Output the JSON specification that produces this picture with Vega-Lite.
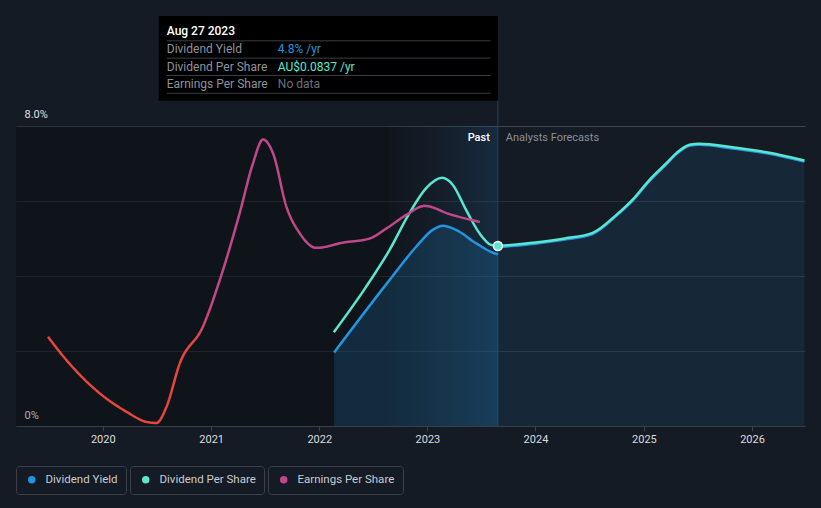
{
"$schema": "https://vega.github.io/schema/vega-lite/v6.json",
"width": 789,
"height": 410,
"autosize": {"type": "none"},
"padding": {"left": 16, "top": 16, "right": 16, "bottom": 82},
"background": "#151b24",
"config": {
  "view": {"stroke": null},
  "font": "Roboto",
  "legend": {"orient": "none", "title": null, "labelColor": "#c9ccd1", "labelFontSize": 11.5, "labelFont": "Roboto", "symbolType": "circle", "symbolSize": 56, "symbolStrokeWidth": 0, "strokeColor": "#3b4049", "cornerRadius": 3, "padding": 8, "labelOffset": 8, "symbolOffset": 2}
},
"datasets": {
  "regions": [
    {"period": "history", "start": "2019-03-14", "end": "2022-08-26"},
    {"period": "last year", "start": "2022-08-26", "end": "2023-08-27"}
  ],
  "yield": [
    {"date": "2022-02-20", "dy": 1.96, "part": "past"},
    {"date": "2022-08-26", "dy": 3.89, "part": "past"},
    {"date": "2022-11-24", "dy": 4.78, "part": "past"},
    {"date": "2023-01-19", "dy": 5.23, "part": "past"},
    {"date": "2023-02-22", "dy": 5.34, "part": "past"},
    {"date": "2023-04-08", "dy": 5.23, "part": "past"},
    {"date": "2023-06-15", "dy": 4.87, "part": "past"},
    {"date": "2023-08-10", "dy": 4.62, "part": "past"},
    {"date": "2023-08-27", "dy": 4.58, "part": "past"},
    {"date": "2023-08-27", "dy": 4.77, "part": "forecast"},
    {"date": "2024-01-01", "dy": 4.86, "part": "forecast"},
    {"date": "2024-04-09", "dy": 4.97, "part": "forecast"},
    {"date": "2024-07-12", "dy": 5.12, "part": "forecast"},
    {"date": "2024-10-01", "dy": 5.61, "part": "forecast"},
    {"date": "2024-11-24", "dy": 6.01, "part": "forecast"},
    {"date": "2025-01-21", "dy": 6.54, "part": "forecast"},
    {"date": "2025-03-18", "dy": 6.98, "part": "forecast"},
    {"date": "2025-04-21", "dy": 7.25, "part": "forecast"},
    {"date": "2025-06-04", "dy": 7.47, "part": "forecast"},
    {"date": "2025-07-07", "dy": 7.5, "part": "forecast"},
    {"date": "2025-10-27", "dy": 7.4, "part": "forecast"},
    {"date": "2026-02-19", "dy": 7.27, "part": "forecast"},
    {"date": "2026-06-27", "dy": 7.05, "part": "forecast"}
  ],
  "dps": [
    {"date": "2022-02-19", "dps": 0.0436, "part": "past"},
    {"date": "2022-06-08", "dps": 0.0647, "part": "past"},
    {"date": "2022-08-26", "dps": 0.0818, "part": "past"},
    {"date": "2022-11-01", "dps": 0.0989, "part": "past"},
    {"date": "2022-12-28", "dps": 0.1106, "part": "past"},
    {"date": "2023-02-20", "dps": 0.1154, "part": "past"},
    {"date": "2023-03-28", "dps": 0.1121, "part": "past"},
    {"date": "2023-05-12", "dps": 0.1004, "part": "past"},
    {"date": "2023-06-26", "dps": 0.0896, "part": "past"},
    {"date": "2023-08-04", "dps": 0.0842, "part": "past"},
    {"date": "2023-08-27", "dps": 0.0837, "part": "past"},
    {"date": "2023-08-27", "dps": 0.0837, "part": "forecast"},
    {"date": "2024-01-01", "dps": 0.0853, "part": "forecast"},
    {"date": "2024-04-09", "dps": 0.0872, "part": "forecast"},
    {"date": "2024-07-12", "dps": 0.0898, "part": "forecast"},
    {"date": "2024-10-01", "dps": 0.0983, "part": "forecast"},
    {"date": "2024-11-24", "dps": 0.1053, "part": "forecast"},
    {"date": "2025-01-21", "dps": 0.1146, "part": "forecast"},
    {"date": "2025-03-18", "dps": 0.1222, "part": "forecast"},
    {"date": "2025-04-21", "dps": 0.1269, "part": "forecast"},
    {"date": "2025-06-04", "dps": 0.1308, "part": "forecast"},
    {"date": "2025-07-07", "dps": 0.1313, "part": "forecast"},
    {"date": "2025-10-27", "dps": 0.1296, "part": "forecast"},
    {"date": "2026-02-19", "dps": 0.1273, "part": "forecast"},
    {"date": "2026-06-27", "dps": 0.1235, "part": "forecast"}
  ],
  "eps": [
    {"date": "2019-06-30", "eps": 2.38},
    {"date": "2019-08-31", "eps": 1.76},
    {"date": "2019-12-22", "eps": 0.87},
    {"date": "2020-03-21", "eps": 0.38},
    {"date": "2020-05-27", "eps": 0.11},
    {"date": "2020-06-30", "eps": 0.08},
    {"date": "2020-08-03", "eps": 0.51},
    {"date": "2020-09-17", "eps": 1.67},
    {"date": "2020-12-04", "eps": 2.65},
    {"date": "2021-01-30", "eps": 3.89},
    {"date": "2021-04-07", "eps": 5.67},
    {"date": "2021-05-22", "eps": 7.0},
    {"date": "2021-06-25", "eps": 7.64},
    {"date": "2021-07-29", "eps": 7.27},
    {"date": "2021-09-12", "eps": 5.85},
    {"date": "2021-10-27", "eps": 5.14},
    {"date": "2021-12-22", "eps": 4.75},
    {"date": "2022-03-22", "eps": 4.89},
    {"date": "2022-06-20", "eps": 5.0},
    {"date": "2022-08-16", "eps": 5.27},
    {"date": "2022-10-22", "eps": 5.63},
    {"date": "2022-12-23", "eps": 5.87},
    {"date": "2023-03-17", "eps": 5.65},
    {"date": "2023-06-27", "eps": 5.44}
  ],
  "tip": [
    {"label": "Dividend Yield", "value": "4.8% /yr"},
    {"label": "Dividend Per Share", "value": "AU$0.0837 /yr"},
    {"label": "Earnings Per Share", "value": "No data"}
  ]
},
"layer": [
  {
    "layer": [
      {
        "data": {"name": "regions"},
        "transform": [{"filter": "datum.period == 'history'"}],
        "mark": {"type": "rect", "color": "#000000", "opacity": 0.25},
        "encoding": {
          "x": {"field": "start", "type": "temporal",
                "scale": {"domain": [{"year": 2019, "month": 3, "date": 14}, {"year": 2026, "month": 6, "date": 29}]},
                "axis": {"title": null, "format": "%Y", "tickCount": "year", "grid": false, "domainColor": "#3a404a", "tickColor": "#3a404a", "tickSize": 5, "labelPadding": 2, "labelColor": "#dcdcdc", "labelFontSize": 11, "labelFont": "Roboto"}},
          "x2": {"field": "end"},
          "y": {"datum": 0, "type": "quantitative",
                "scale": {"domain": [0, 10.9333], "nice": false, "zero": false},
                "axis": {"title": null, "values": [0, 2, 4, 6, 8], "labelExpr": "datum.value == 8 ? '8.0%' : (datum.value == 0 ? '0%' : '')", "grid": true, "gridColor": {"condition": {"test": "datum.value == 8", "value": "#40454e"}, "value": "#2a3039"}, "gridWidth": 1, "domain": false, "ticks": false, "tickSize": 0, "labelAlign": "left", "labelBaseline": "alphabetic", "labelPadding": -8, "labelOffset": -8, "labelColor": "#e0e0e0", "labelFontSize": 11, "labelFont": "Roboto"}},
          "y2": {"datum": 8}
        }
      },
      {
        "data": {"name": "regions"},
        "transform": [{"filter": "datum.period == 'last year'"}],
        "mark": {"type": "rect", "fill": {"gradient": "linear", "x1": 0, "y1": 0, "x2": 1, "y2": 0, "stops": [{"offset": 0, "color": "rgba(0,0,0,0.2)"}, {"offset": 1, "color": "rgba(30,90,140,0.25)"}]}},
        "encoding": {
          "x": {"field": "start", "type": "temporal"},
          "x2": {"field": "end"},
          "y": {"datum": 0, "type": "quantitative"},
          "y2": {"datum": 8}
        }
      },
      {
        "data": {"values": [{}]},
        "mark": {"type": "rule", "color": "#1d4566", "strokeWidth": 1},
        "encoding": {
          "x": {"datum": {"year": 2023, "month": 8, "date": 27}, "type": "temporal"},
          "y": {"datum": 0, "type": "quantitative"},
          "y2": {"datum": 8.69}
        }
      },
      {
        "data": {"name": "yield"},
        "transform": [{"filter": "datum.part == 'forecast'"}],
        "mark": {"type": "area", "color": "#2394df", "opacity": 0.1, "interpolate": "monotone"},
        "encoding": {
          "x": {"field": "date", "type": "temporal"},
          "y": {"field": "dy", "type": "quantitative"}
        }
      },
      {
        "data": {"name": "yield"},
        "transform": [{"filter": "datum.part == 'past'"}],
        "mark": {"type": "area", "color": "#2394df", "opacity": 0.18, "interpolate": "monotone"},
        "encoding": {
          "x": {"field": "date", "type": "temporal"},
          "y": {"field": "dy", "type": "quantitative"}
        }
      },
      {
        "data": {"name": "yield"},
        "mark": {"type": "line", "strokeWidth": 2.5, "interpolate": "monotone"},
        "encoding": {
          "x": {"field": "date", "type": "temporal"},
          "y": {"field": "dy", "type": "quantitative"},
          "detail": {"field": "part"},
          "stroke": {"datum": "Dividend Yield", "type": "nominal",
                     "scale": {"domain": ["Dividend Yield"], "range": ["#2394df"]},
                     "legend": {"legendX": 0, "legendY": 450, "symbolFillColor": "#2394df", "symbolStrokeColor": "#2394df"}}
        }
      },
      {
        "data": {"values": [{}]},
        "mark": {"type": "text", "align": "right", "baseline": "middle", "dx": -8, "color": "#ffffff", "fontSize": 11, "fontWeight": 500},
        "encoding": {
          "x": {"datum": {"year": 2023, "month": 8, "date": 27}, "type": "temporal"},
          "y": {"datum": 7.68, "type": "quantitative"},
          "text": {"value": "Past"}
        }
      },
      {
        "data": {"values": [{}]},
        "mark": {"type": "text", "align": "left", "baseline": "middle", "dx": 8, "color": "#8b9099", "fontSize": 11},
        "encoding": {
          "x": {"datum": {"year": 2023, "month": 8, "date": 27}, "type": "temporal"},
          "y": {"datum": 7.68, "type": "quantitative"},
          "text": {"value": "Analysts Forecasts"}
        }
      },
      {
        "data": {"values": [{}]},
        "mark": {"type": "rect", "color": "#000000"},
        "encoding": {
          "x": {"datum": {"year": 2020, "month": 7, "date": 8}, "type": "temporal"},
          "x2": {"datum": {"year": 2023, "month": 8, "date": 27}},
          "y": {"datum": 10.9333, "type": "quantitative"},
          "y2": {"datum": 8.67}
        }
      },
      {
        "data": {"values": [{}]},
        "mark": {"type": "text", "align": "left", "baseline": "middle", "color": "#ffffff", "fontSize": 12, "fontWeight": 500},
        "encoding": {
          "x": {"datum": {"year": 2020, "month": 8, "date": 4}, "type": "temporal"},
          "y": {"datum": 10.53, "type": "quantitative"},
          "text": {"value": "Aug 27 2023"}
        }
      }
    ]
  },
  {
    "data": {"name": "dps"},
    "layer": [
      {
        "mark": {"type": "line", "strokeWidth": 2.5, "interpolate": "monotone"},
        "encoding": {
          "x": {"field": "date", "type": "temporal"},
          "y": {"field": "dps", "type": "quantitative", "scale": {"domain": [0, 0.19065], "nice": false, "zero": false}, "axis": null},
          "detail": {"field": "part"},
          "color": {"datum": "Dividend Per Share", "type": "nominal",
                    "scale": {"domain": ["Dividend Per Share"], "range": ["#5ce6cf"]},
                    "legend": {"legendX": 114, "legendY": 450, "symbolFillColor": "#5ce6cf", "symbolStrokeColor": "#5ce6cf"}}
        }
      },
      {
        "transform": [{"filter": "datum.part == 'forecast' && utcyear(datum.date) == 2023"}],
        "mark": {"type": "point", "filled": true, "color": "#5ce6cf", "stroke": "#ffffff", "strokeWidth": 1.5, "size": 80, "opacity": 1},
        "encoding": {
          "x": {"field": "date", "type": "temporal"},
          "y": {"field": "dps", "type": "quantitative"}
        }
      }
    ]
  },
  {
    "data": {"name": "eps"},
    "layer": [
      {
        "mark": {"type": "line", "strokeWidth": 2.5, "interpolate": "monotone",
                 "stroke": {"gradient": "linear", "x1": 0, "y1": 0, "x2": 1, "y2": 0, "stops": [{"offset": 0, "color": "#e5473c"}, {"offset": 0.33, "color": "#e5473c"}, {"offset": 0.39, "color": "#c1478b"}, {"offset": 1, "color": "#c1478b"}]}},
        "encoding": {
          "x": {"field": "date", "type": "temporal"},
          "y": {"field": "eps", "type": "quantitative", "scale": {"domain": [0, 10.9333], "nice": false, "zero": false}, "axis": null},
          "strokeDash": {"datum": "Earnings Per Share", "type": "nominal",
                         "scale": {"domain": ["Earnings Per Share"], "range": [[1, 0]]},
                         "legend": {"legendX": 252, "legendY": 450, "symbolFillColor": "#c1478b", "symbolStrokeColor": "#c1478b"}}
        }
      }
    ]
  },
  {
    "data": {"name": "tip"},
    "layer": [
      {
        "mark": {"type": "rule", "color": "#3a3d42", "yOffset": -8.5},
        "encoding": {
          "x": {"datum": {"year": 2020, "month": 8, "date": 4}, "type": "temporal"},
          "x2": {"datum": {"year": 2023, "month": 8, "date": 2}},
          "y": {"field": "label", "type": "nominal", "scale": {"type": "point", "domain": ["Dividend Yield", "Dividend Per Share", "Earnings Per Share"], "range": [33.3, 68], "padding": 0}, "axis": null}
        }
      },
      {
        "transform": [{"filter": "datum.label == 'Earnings Per Share'"}],
        "mark": {"type": "rule", "color": "#3a3d42", "yOffset": 9.3},
        "encoding": {
          "x": {"datum": {"year": 2020, "month": 8, "date": 4}, "type": "temporal"},
          "x2": {"datum": {"year": 2023, "month": 8, "date": 2}},
          "y": {"field": "label", "type": "nominal"}
        }
      },
      {
        "mark": {"type": "text", "align": "left", "baseline": "middle", "color": "#8e939b", "fontSize": 12},
        "encoding": {
          "x": {"datum": {"year": 2020, "month": 8, "date": 4}, "type": "temporal"},
          "y": {"field": "label", "type": "nominal"},
          "text": {"field": "label"}
        }
      },
      {
        "mark": {"type": "text", "align": "left", "baseline": "middle", "fontSize": 12},
        "encoding": {
          "x": {"datum": {"year": 2021, "month": 8, "date": 14}, "type": "temporal"},
          "y": {"field": "label", "type": "nominal"},
          "text": {"field": "value"},
          "fill": {"field": "label", "type": "nominal", "scale": {"domain": ["Dividend Yield", "Dividend Per Share", "Earnings Per Share"], "range": ["#2394df", "#5ce6cf", "#6b7079"]}, "legend": null}
        }
      }
    ]
  }
],
"resolve": {"scale": {"y": "independent"}}
}
